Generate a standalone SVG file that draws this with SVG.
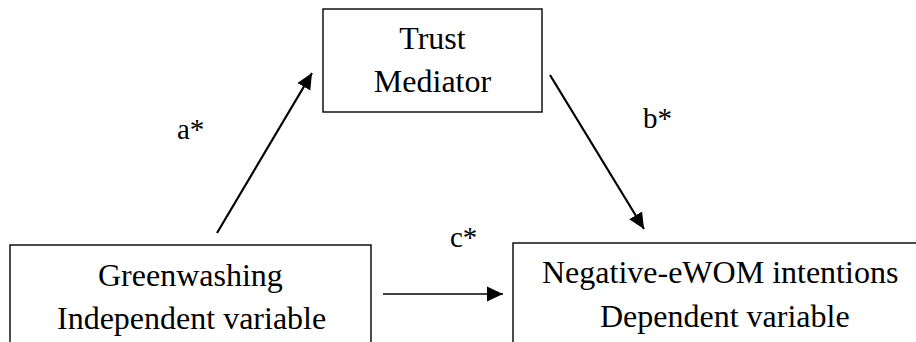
<svg xmlns="http://www.w3.org/2000/svg" width="916" height="342" viewBox="0 0 916 342">
<style>
.box{fill:#fff;stroke:#000;stroke-width:1.4}
.t{font-family:"Liberation Serif","Times New Roman",serif;font-size:32px;fill:#000}
.m{text-anchor:middle}
.lbl{font-family:"Liberation Serif","Times New Roman",serif;font-size:29px;fill:#000}
.c{stroke:#000;fill:none}
</style>
<defs>
<marker id="ah" markerUnits="userSpaceOnUse" markerWidth="18" markerHeight="16" refX="16" refY="7.5" orient="auto" viewBox="0 0 18 15">
<path d="M0,0 L16,7.5 L0,15 Z" fill="#000"/>
</marker>
</defs>
<rect width="916" height="342" fill="#fff"/>
<g id="trust">
<rect class="box" x="323" y="9" width="219" height="103"/>
<text class="t m" x="432.5" y="49">Trust</text>
<text class="t m" x="432.5" y="92">Mediator</text>
</g>
<g id="greenwashing">
<rect class="box" x="10" y="245" width="361" height="120"/>
<text class="t" x="98" y="286">Greenwashing</text>
<text class="t" x="57" y="329">Independent variable</text>
</g>
<g id="negative">
<rect class="box" x="513" y="243" width="420" height="130"/>
<text class="t" x="542" y="283">Negative-eWOM intentions</text>
<text class="t" x="600" y="327">Dependent variable</text>
</g>
<g id="connectors">
<line class="c" x1="217" y1="233" x2="312" y2="73" stroke-width="2.2" marker-end="url(#ah)"/>
<line class="c" x1="550" y1="75" x2="644" y2="229" stroke-width="2.2" marker-end="url(#ah)"/>
<line class="c" x1="383" y1="294" x2="503" y2="294" stroke-width="1.4" marker-end="url(#ah)"/>
<text class="lbl" x="177" y="139">a*</text>
<text class="lbl" x="643" y="128">b*</text>
<text class="lbl" x="450" y="247">c*</text>
</g>
</svg>
